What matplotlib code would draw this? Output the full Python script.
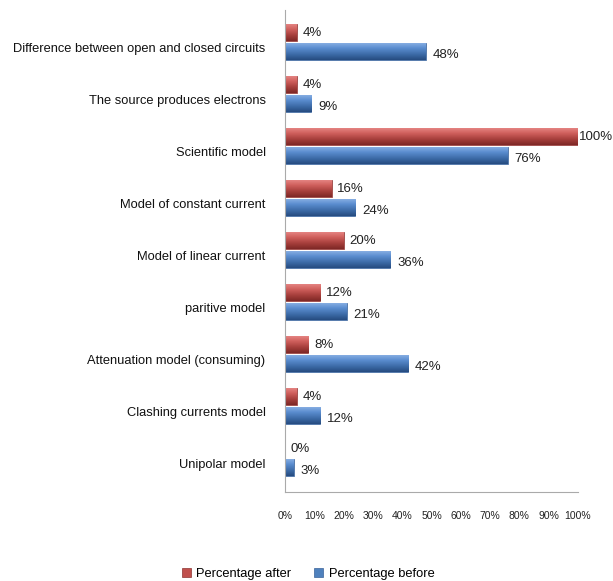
import numpy as np
import matplotlib
matplotlib.use('Agg')
import matplotlib.pyplot as plt
from matplotlib.colors import LinearSegmentedColormap

plt.rcParams['font.family'] = ['Liberation Sans', 'DejaVu Sans']

# datos
categorias = ["Difference between open and closed circuits",
              "The source produces electrons",
              "Scientific model",
              "Model of constant current",
              "Model of linear current",
              "paritive model",
              "Attenuation model (consuming)",
              "Clashing currents model",
              "Unipolar model"]
despues = [4, 4, 100, 16, 20, 12, 8, 4, 0]
antes = [48, 9, 76, 24, 36, 21, 42, 12, 3]
ticks_x = [0, 10, 20, 30, 40, 50, 60, 70, 80, 90, 100]

rojo = "#C0504D"
azul = "#4F81BD"
cmap_rojo = LinearSegmentedColormap.from_list("r", ["#E88A88", "#D0605D", "#A8403D", "#7E2826"])
cmap_azul = LinearSegmentedColormap.from_list("b", ["#8DB3E6", "#5B8DCF", "#3E6DAA", "#264C80"])

fig = plt.figure(figsize=(6.13, 5.81), dpi=100)
ax = fig.add_axes([285/613, 1-492/581, (578-285)/613, (492-10)/581])

y = np.arange(len(categorias))
h = 0.33
off = 0.185

b1 = ax.barh(y - off, despues, height=h, color=rojo, edgecolor="#8E3432", linewidth=0.5, label="Percentage after")
b2 = ax.barh(y + off, antes, height=h, color=azul, edgecolor="#3A639A", linewidth=0.5, label="Percentage before")

# degradado en las barras
grad = np.linspace(0, 1, 50).reshape(-1, 1)
for barras, cm in [(b1, cmap_rojo), (b2, cmap_azul)]:
    for p in barras:
        if p.get_width() <= 0:
            continue
        x0 = p.get_x()
        y0 = p.get_y()
        im = ax.imshow(grad, cmap=cm, aspect='auto', origin='upper',
                       extent=(x0, x0 + p.get_width(), y0 + p.get_height(), y0),
                       zorder=2)
        im.set_clip_path(p)

# etiquetas de valores
for i in range(len(categorias)):
    dx = 1 if despues[i] >= 100 else 4
    ax.annotate(f"{despues[i]}%", (despues[i], y[i] - off), xytext=(dx, 0), textcoords="offset points",
                va="center", ha="left", fontsize=9.5, color="#222222")
    ax.annotate(f"{antes[i]}%", (antes[i], y[i] + off), xytext=(5, -2), textcoords="offset points",
                va="center", ha="left", fontsize=9.5, color="#222222")

ax.set_xlim(0, 100)
ax.set_ylim(8.65, -0.62)
ax.set_xticks(ticks_x)
ax.set_xticklabels([f"{t}%" for t in ticks_x], fontsize=7.5, color="#222222")
ax.set_yticks(y + 0.1)
ax.set_yticklabels(categorias, fontsize=9.3, color="#111111")
ax.tick_params(axis='x', length=0, pad=14)
ax.tick_params(axis='y', length=0, pad=14)

for s in ["top", "right"]:
    ax.spines[s].set_visible(False)
ax.spines["left"].set_color("#AAAAAA")
ax.spines["bottom"].set_color("#AAAAAA")

ax.legend(loc="lower center", bbox_to_anchor=(308/613, -0.018), bbox_transform=fig.transFigure,
          ncol=2, frameon=False, fontsize=9.3, handlelength=0.7, handleheight=0.7,
          handletextpad=0.4, columnspacing=1.8)

plt.savefig("out.png", dpi=100)
